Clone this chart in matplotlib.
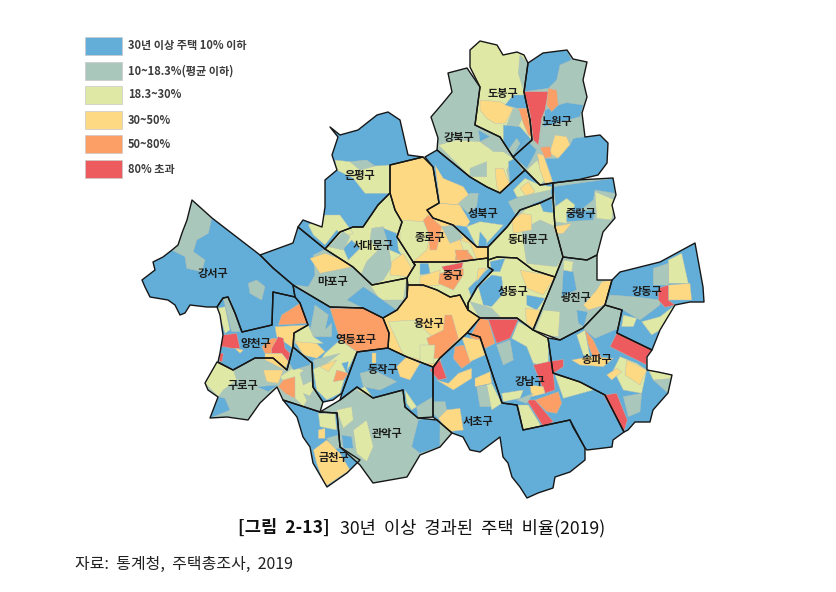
"""
Share of housing older than 30 years, Seoul, 2019 - choropleth traced from the picture.
District outlines are in picture pixels, the blocks inside them are in crop pixels (3x zoom).
"""
import matplotlib
matplotlib.use('Agg')
import matplotlib.pyplot as plt
from matplotlib.path import Path
from matplotlib.patches import PathPatch

plt.rcParams['font.family'] = ['Noto Sans CJK KR', 'DejaVu Sans']

# class colours, low to high
class_colors = ['#62aed8', '#a9c8bb', '#dfe9a5', '#fdd983', '#fb9f66', '#ee5b5e']
class_labels = ['30년 이상 주택 10% 이하', '10~18.3%(평균 이하)', '18.3~30%', '30~50%', '50~80%', '80% 초과']

district_names = ['도봉구', '노원구', '강북구', '성북구', '종로구', '은평구', '서대문구', '마포구', '강서구',
                  '영등포구', '양천구', '구로구', '금천구', '관악구', '동작구', '용산구', '중구', '동대문구',
                  '중랑구', '광진구', '성동구', '강동구', '송파구', '강남구', '서초구']
district_base = [2, 1, 1, 0, 3, 0, 2, 1, 0, 0, 0, 1, 0, 1, 0, 3, 2, 2, 1, 1, 2, 0, 0, 0, 0]
label_x = [503, 557, 459, 483, 430, 360, 373, 333, 213, 356, 256, 243, 334, 387, 383, 429, 453, 528, 581, 576, 513, 647, 597, 530, 478]
label_y = [94, 121, 137, 214, 237, 176, 246, 282, 273, 339, 344, 385, 457, 434, 369, 324, 276, 240, 214, 298, 291, 292, 360, 382, 422]

district_shapes = [
    [(470, 50), (480, 41), (497, 45), (503, 55), (517, 52), (524, 55), (528, 63), (524, 92), (530, 120), (532, 140), (513, 157), (500, 137), (475, 125), (480, 87), (470, 67)],
    [(528, 63), (543, 53), (567, 50), (573, 59), (587, 62), (583, 80), (587, 97), (582, 113), (585, 137), (600, 135), (608, 143), (607, 163), (598, 175), (577, 180), (553, 183), (540, 185), (525, 170), (513, 157), (532, 140), (530, 120), (524, 92)],
    [(448, 73), (467, 68), (480, 87), (475, 125), (500, 137), (513, 157), (525, 170), (500, 193), (487, 187), (470, 177), (437, 150), (438, 138), (431, 117), (443, 103), (452, 92)],
    [(437, 150), (425, 157), (433, 167), (439, 203), (427, 210), (433, 218), (453, 225), (467, 238), (477, 247), (488, 247), (507, 227), (520, 210), (540, 203), (553, 197), (553, 183), (540, 185), (525, 170), (500, 193), (487, 187), (470, 177)],
    [(390, 165), (423, 157), (433, 167), (439, 203), (427, 210), (433, 218), (453, 225), (467, 238), (477, 247), (488, 247), (488, 258), (457, 262), (413, 262), (415, 265), (397, 237), (402, 222), (395, 210), (390, 193)],
    [(330, 127), (340, 135), (358, 130), (377, 115), (388, 112), (400, 120), (408, 155), (423, 157), (390, 165), (390, 193), (378, 205), (363, 227), (353, 227), (340, 232), (325, 249), (298, 227), (303, 220), (322, 227), (325, 207), (325, 180), (337, 170), (332, 155), (338, 137)],
    [(390, 193), (395, 210), (402, 222), (397, 237), (415, 265), (407, 278), (372, 285), (353, 267), (325, 249), (340, 232), (353, 227), (363, 227), (378, 205)],
    [(260, 255), (293, 243), (298, 227), (325, 249), (353, 267), (372, 285), (407, 278), (407, 297), (397, 310), (383, 318), (363, 308), (330, 307), (293, 285), (273, 268)],
    [(192, 200), (212, 218), (260, 255), (273, 268), (293, 285), (295, 297), (273, 292), (272, 325), (242, 332), (235, 313), (228, 297), (223, 298), (217, 307), (207, 307), (190, 305), (185, 313), (180, 315), (175, 305), (168, 300), (150, 297), (145, 287), (142, 280), (155, 270), (153, 262), (163, 257), (172, 250), (178, 245), (182, 233), (187, 220)],
    [(293, 285), (330, 307), (363, 308), (383, 318), (389, 333), (388, 348), (357, 352), (342, 393), (333, 400), (323, 402), (313, 387), (312, 363), (293, 347), (294, 333), (308, 325), (300, 303), (295, 297)],
    [(217, 307), (223, 298), (228, 297), (235, 313), (242, 332), (272, 325), (273, 292), (295, 297), (300, 303), (308, 325), (294, 333), (293, 347), (287, 370), (273, 358), (255, 358), (233, 370), (218, 362), (220, 353), (223, 335), (220, 315)],
    [(205, 383), (217, 362), (233, 370), (255, 358), (273, 358), (287, 370), (293, 347), (312, 363), (313, 387), (323, 402), (320, 412), (283, 400), (277, 387), (260, 403), (248, 420), (227, 417), (210, 418), (218, 397), (208, 390)],
    [(283, 400), (320, 412), (337, 413), (340, 447), (360, 460), (347, 473), (327, 487), (313, 463), (310, 447), (303, 437), (297, 417)],
    [(320, 412), (340, 400), (357, 387), (373, 398), (403, 390), (405, 407), (418, 418), (437, 420), (452, 433), (440, 447), (420, 455), (407, 477), (373, 483), (360, 465), (340, 447), (337, 413)],
    [(357, 352), (388, 348), (407, 357), (433, 367), (433, 417), (418, 418), (405, 407), (403, 390), (373, 398), (357, 387), (340, 400), (342, 393)],
    [(407, 297), (408, 285), (423, 285), (437, 290), (450, 297), (460, 295), (468, 310), (480, 318), (467, 333), (440, 358), (433, 367), (407, 357), (388, 348), (389, 333), (383, 318), (397, 310)],
    [(415, 265), (413, 262), (457, 262), (488, 258), (488, 267), (493, 270), (477, 287), (468, 303), (468, 310), (460, 295), (450, 297), (437, 290), (423, 285), (408, 285), (407, 278)],
    [(488, 247), (507, 227), (520, 210), (540, 203), (553, 197), (555, 227), (563, 257), (555, 277), (533, 270), (517, 258), (497, 257), (488, 260)],
    [(553, 183), (577, 180), (613, 178), (616, 195), (612, 205), (615, 218), (603, 232), (597, 255), (587, 260), (563, 257), (555, 227), (553, 197)],
    [(563, 257), (587, 260), (597, 255), (597, 280), (612, 280), (605, 305), (583, 328), (560, 340), (533, 330), (555, 277)],
    [(488, 260), (497, 257), (517, 258), (533, 270), (555, 277), (533, 330), (517, 318), (487, 318), (480, 318), (468, 310), (468, 303), (477, 287), (493, 270), (488, 267)],
    [(612, 280), (620, 272), (660, 262), (695, 243), (703, 287), (704, 302), (690, 302), (675, 305), (660, 330), (652, 350), (617, 333), (622, 310), (605, 305)],
    [(605, 305), (622, 310), (617, 333), (652, 350), (647, 357), (647, 370), (658, 372), (672, 375), (668, 393), (653, 410), (650, 422), (635, 422), (628, 430), (624, 432), (605, 395), (580, 382), (553, 373), (548, 338), (560, 340), (583, 328)],
    [(480, 318), (517, 318), (533, 330), (548, 338), (553, 373), (580, 382), (605, 395), (624, 432), (613, 440), (612, 447), (587, 450), (585, 448), (570, 420), (523, 430), (517, 405), (502, 403), (480, 337), (467, 333)],
    [(467, 333), (480, 337), (502, 403), (517, 405), (523, 430), (570, 420), (573, 427), (585, 448), (585, 460), (570, 472), (555, 477), (553, 488), (538, 493), (527, 498), (520, 487), (512, 477), (508, 463), (503, 457), (500, 437), (480, 452), (470, 450), (463, 437), (452, 433), (437, 420), (433, 417), (433, 368), (440, 358)],
]

# crop origins of the three traced zooms
north_origin = (300, 30)
west_origin = (140, 190)
east_origin = (420, 230)

north_blobs = [
    (1, [(660, 75), (685, 100), (672, 185), (655, 130)]),
    (3, [(540, 210), (600, 215), (640, 235), (615, 280), (585, 280), (560, 265), (540, 240)]),
    (0, [(615, 225), (640, 195), (675, 195), (680, 235), (650, 235)]),
    (1, [(640, 235), (680, 235), (655, 290), (620, 285)]),
    (0, [(610, 285), (660, 290), (695, 330), (640, 380), (610, 340)]),
    (1, [(625, 360), (650, 325), (660, 340), (640, 375)]),
    (4, [(655, 235), (680, 235), (695, 320), (685, 315), (670, 280)]),
    (0, [(685, 100), (730, 68), (800, 60), (815, 90), (780, 105), (770, 150), (745, 175), (672, 185)]),
    (0, [(735, 240), (775, 225), (800, 218), (850, 225), (840, 260), (790, 275), (730, 290)]),
    (5, [(672, 185), (745, 185), (735, 240), (725, 265), (715, 345), (700, 330), (690, 250)]),
    (4, [(745, 175), (770, 180), (775, 225), (755, 245), (740, 225)]),
    (1, [(725, 300), (760, 310), (745, 350), (720, 350)]),
    (3, [(765, 315), (800, 320), (810, 345), (775, 385), (748, 370)]),
    (4, [(720, 352), (750, 350), (755, 380), (735, 385)]),
    (0, [(735, 385), (775, 385), (810, 345), (820, 325), (855, 320), (900, 315), (925, 340), (920, 400), (895, 435), (830, 450), (760, 460), (740, 400)]),
    (0, [(640, 380), (680, 330), (710, 360), (700, 380), (680, 415)]),
    (2, [(680, 420), (712, 390), (735, 450), (720, 465)]),
    (3, [(712, 370), (730, 375), (758, 455), (735, 460), (720, 420)]),
    (2, [(415, 345), (470, 330), (540, 335), (560, 350), (610, 365), (640, 385), (620, 420), (630, 460), (600, 490), (560, 470), (510, 440)]),
    (0, [(535, 300), (570, 320), (540, 335)]),
    (1, [(545, 335), (590, 325), (625, 365), (580, 365)]),
    (1, [(510, 415), (560, 395), (560, 440), (510, 440)]),
    (0, [(625, 395), (645, 385), (670, 425), (630, 465)]),
    (3, [(585, 415), (610, 415), (630, 465), (600, 490), (590, 470)]),
    (3, [(405, 405), (430, 445), (490, 470), (510, 500), (480, 525), (420, 520)]),
    (3, [(382, 540), (420, 520), (480, 525), (510, 575), (500, 590), (460, 585), (400, 565)]),
    (1, [(475, 520), (510, 490), (535, 490), (530, 530), (505, 550)]),
    (2, [(640, 480), (675, 445), (720, 465), (755, 470), (750, 490), (690, 510), (650, 500)]),
    (3, [(660, 475), (685, 455), (705, 485), (680, 500)]),
    (1, [(625, 515), (660, 500), (750, 480), (755, 500), (700, 520), (650, 560)]),
    (2, [(500, 590), (540, 575), (610, 585), (560, 640), (530, 650)]),
    (0, [(540, 605), (560, 630), (560, 650), (535, 650)]),
    (2, [(300, 570), (370, 575), (390, 610), (380, 660), (340, 695), (300, 640)]),
    (4, [(370, 570), (385, 555), (425, 590), (410, 660), (390, 660), (385, 610)]),
    (1, [(425, 590), (465, 585), (490, 625), (450, 640)]),
    (2, [(480, 630), (510, 640), (530, 690), (500, 690)]),
    (4, [(470, 670), (500, 660), (525, 690), (465, 690)]),
    (2, [(105, 390), (150, 395), (190, 410), (270, 405), (270, 490), (195, 490), (160, 445), (110, 420)]),
    (1, [(150, 395), (200, 390), (225, 408), (180, 420)]),
    (1, [(665, 600), (720, 570), (765, 590), (790, 680), (770, 710), (680, 700)]),
    (3, [(635, 570), (665, 550), (695, 555), (695, 600), (640, 610)]),
    (0, [(720, 520), (755, 505), (760, 548), (730, 545)]),
    (0, [(760, 470), (940, 445), (945, 490), (885, 480), (880, 510), (830, 550), (770, 550)]),
    (2, [(885, 485), (945, 510), (935, 570), (890, 565)]),
    (2, [(765, 530), (800, 505), (825, 525), (800, 580), (760, 575)]),
    (0, [(800, 545), (885, 540), (880, 570), (800, 575)]),
    (3, [(760, 590), (815, 580), (790, 610), (768, 612)]),
]

west_blobs = [
    (2, [(505, 105), (555, 75), (600, 75), (640, 130), (610, 140), (590, 120), (555, 165), (520, 135)]),
    (1, [(695, 115), (730, 110), (745, 160), (755, 230), (730, 270), (695, 285), (660, 260), (680, 215), (715, 180), (690, 150)]),
    (0, [(730, 115), (770, 130), (775, 180), (805, 225), (785, 195), (750, 180)]),
    (0, [(610, 175), (635, 150), (660, 175), (625, 210)]),
    (1, [(565, 170), (610, 125), (630, 140), (610, 180)]),
    (3, [(755, 215), (790, 190), (815, 235), (805, 260), (750, 255)]),
    (0, [(360, 195), (460, 160), (475, 110), (555, 178), (520, 195), (525, 255), (505, 290), (460, 285), (400, 235)]),
    (3, [(510, 205), (555, 190), (610, 210), (640, 230), (540, 250)]),
    (2, [(690, 285), (800, 265), (790, 330), (720, 330)]),
    (0, [(620, 330), (670, 290), (700, 310), (770, 360), (730, 385), (670, 355)]),
    (4, [(570, 355), (670, 355), (730, 385), (748, 430), (745, 475), (650, 485), (600, 450)]),
    (4, [(425, 375), (480, 340), (505, 400), (415, 405)]),
    (3, [(405, 410), (500, 405), (465, 440), (460, 475), (410, 440)]),
    (1, [(525, 345), (565, 375), (555, 420), (575, 400), (575, 440), (520, 440), (510, 425)]),
    (2, [(465, 430), (505, 405), (520, 440), (550, 460), (465, 460)]),
    (3, [(465, 455), (530, 460), (555, 485), (530, 505), (490, 495)]),
    (2, [(555, 490), (600, 450), (650, 485), (620, 545), (600, 610), (560, 630), (530, 600), (520, 540)]),
    (1, [(520, 510), (600, 490), (560, 520), (525, 535)]),
    (3, [(540, 530), (590, 510), (565, 545)]),
    (4, [(580, 575), (590, 540), (625, 550), (610, 570)]),
    (0, [(605, 520), (625, 515), (620, 550)]),
    (3, [(695, 490), (708, 490), (708, 520), (695, 520)]),
    (3, [(770, 530), (800, 500), (840, 520), (810, 570), (780, 560)]),
    (1, [(660, 550), (700, 540), (770, 575), (720, 600), (670, 590)]),
    (2, [(795, 600), (830, 650), (815, 660), (800, 640)]),
    (1, [(830, 650), (880, 620), (880, 680), (835, 685)]),
    (2, [(650, 600), (675, 590), (700, 625)]),
    (2, [(232, 355), (255, 350), (270, 420), (255, 430)]),
    (1, [(250, 325), (270, 325), (300, 425), (275, 425)]),
    (5, [(250, 435), (290, 430), (300, 475), (275, 475), (250, 470), (240, 475)]),
    (5, [(240, 490), (250, 490), (247, 515), (238, 515)]),
    (3, [(285, 475), (310, 480), (300, 490)]),
    (4, [(365, 470), (395, 445), (430, 445), (400, 490), (375, 490)]),
    (5, [(395, 475), (415, 440), (430, 445), (435, 475), (450, 490), (445, 515), (425, 490), (395, 490)]),
    (3, [(375, 490), (425, 490), (445, 515), (435, 540), (375, 510)]),
    (2, [(195, 580), (230, 515), (280, 540), (290, 570), (250, 600), (235, 620)]),
    (0, [(235, 620), (255, 625), (270, 660), (210, 685)]),
    (0, [(350, 590), (415, 585), (385, 605)]),
    (3, [(370, 540), (430, 540), (415, 580), (380, 575)]),
    (2, [(420, 560), (465, 530), (510, 550), (520, 600), (490, 650), (465, 625)]),
    (4, [(415, 590), (430, 570), (465, 560), (465, 625), (435, 610)]),
    (1, [(480, 550), (515, 525), (520, 570), (490, 585)]),
    (0, [(445, 515), (465, 470), (510, 510), (510, 525), (460, 540)]),
    (1, [(490, 610), (525, 625), (540, 665), (510, 650)]),
    (1, [(155, 30), (215, 85), (205, 130), (170, 150), (160, 185), (195, 210), (185, 245), (140, 235), (135, 200), (95, 180), (120, 130), (140, 90)]),
    (1, [(325, 280), (350, 270), (375, 290), (365, 330), (330, 310)]),
    (2, [(535, 670), (585, 670), (590, 720), (540, 710)]),
    (1, [(560, 745), (595, 735), (600, 775), (580, 775)]),
    (3, [(520, 780), (560, 750), (600, 790), (630, 840), (555, 890), (530, 820)]),
    (3, [(535, 720), (555, 715), (555, 745), (535, 745)]),
    (2, [(640, 720), (680, 690), (700, 770), (680, 815), (650, 790)]),
    (2, [(590, 660), (635, 650), (640, 690), (610, 715)]),
    (0, [(605, 735), (635, 740), (640, 775), (610, 775)]),
    (0, [(835, 690), (875, 680), (900, 700), (900, 770), (840, 790), (815, 770)]),
    (2, [(745, 395), (830, 390), (860, 425), (905, 465), (900, 525), (790, 495)]),
]

east_blobs = [
    (4, [(20, 325), (70, 300), (75, 255), (95, 255), (115, 325), (60, 385), (40, 385)]),
    (2, [(0, 345), (45, 345), (40, 400), (0, 400)]),
    (3, [(0, 140), (60, 120), (60, 165), (0, 170)]),
    (4, [(60, 130), (130, 115), (130, 135), (100, 180), (55, 160)]),
    (5, [(65, 110), (130, 97), (125, 115), (75, 125)]),
    (0, [(0, 100), (25, 100), (30, 130), (0, 135)]),
    (4, [(105, 60), (145, 60), (145, 90), (110, 90)]),
    (0, [(145, 175), (205, 115), (220, 120), (175, 170), (155, 205)]),
    (3, [(175, 115), (200, 115), (170, 155)]),
    (3, [(490, 225), (530, 180), (545, 155), (575, 150), (555, 220), (520, 255)]),
    (0, [(430, 120), (460, 125), (470, 180), (425, 200)]),
    (0, [(470, 240), (500, 245), (520, 260), (490, 290), (475, 280)]),
    (2, [(345, 300), (370, 240), (420, 245), (415, 320), (370, 315)]),
    (2, [(430, 90), (460, 95), (455, 125), (430, 120)]),
    (0, [(175, 170), (215, 135), (245, 140), (250, 190), (215, 230), (190, 225)]),
    (3, [(300, 120), (405, 140), (370, 195), (320, 175)]),
    (0, [(320, 195), (375, 205), (350, 240), (320, 225)]),
    (3, [(315, 235), (360, 240), (340, 295), (320, 280)]),
    (0, [(210, 95), (255, 85), (240, 125), (215, 125)]),
    (1, [(150, 215), (185, 225), (215, 235), (240, 260), (180, 265)]),
    (1, [(570, 195), (640, 200), (720, 210), (720, 225), (660, 270), (610, 240), (555, 225)]),
    (3, [(745, 165), (810, 160), (815, 210), (745, 210)]),
    (5, [(715, 175), (745, 165), (745, 210), (765, 225), (735, 232), (715, 210)]),
    (2, [(745, 90), (785, 70), (805, 160), (745, 160)]),
    (1, [(700, 115), (745, 100), (745, 165), (700, 165)]),
    (2, [(665, 275), (720, 260), (765, 225), (720, 300), (695, 315)]),
    (2, [(610, 255), (650, 265), (640, 290), (605, 290)]),
    (1, [(505, 240), (555, 225), (605, 240), (595, 295), (525, 325), (490, 295)]),
    (5, [(590, 310), (695, 360), (680, 380), (680, 405), (570, 350)]),
    (2, [(470, 315), (495, 300), (510, 380), (490, 375)]),
    (4, [(495, 300), (520, 330), (545, 385), (520, 385), (505, 345)]),
    (3, [(455, 390), (510, 380), (580, 385), (550, 410), (480, 405)]),
    (2, [(600, 380), (650, 400), (680, 420), (665, 490), (610, 480), (580, 420)]),
    (3, [(620, 390), (680, 420), (660, 465), (615, 435)]),
    (3, [(560, 435), (590, 415), (605, 425), (575, 450)]),
    (1, [(610, 500), (665, 490), (660, 545), (625, 560)]),
    (2, [(685, 420), (755, 435), (745, 470), (700, 450)]),
    (1, [(700, 450), (760, 445), (745, 490)]),
    (4, [(150, 320), (180, 265), (205, 270), (225, 340), (195, 355)]),
    (5, [(205, 268), (295, 268), (270, 325), (230, 340)]),
    (2, [(295, 275), (340, 300), (385, 325), (385, 410), (340, 400), (320, 350), (275, 325)]),
    (1, [(230, 345), (270, 330), (280, 390), (250, 405)]),
    (5, [(340, 405), (385, 395), (430, 388), (430, 410), (400, 430), (405, 480), (375, 490)]),
    (2, [(405, 435), (480, 455), (520, 480), (430, 505)]),
    (4, [(345, 510), (415, 485), (425, 520), (410, 550), (380, 545)]),
    (5, [(320, 510), (345, 510), (400, 575), (370, 590)]),
    (2, [(295, 525), (325, 525), (365, 590), (310, 600)]),
    (5, [(550, 495), (590, 490), (622, 570), (612, 605)]),
    (2, [(245, 490), (310, 480), (300, 505), (250, 515)]),
    (3, [(330, 465), (370, 470), (375, 490), (335, 500)]),
    (1, [(290, 510), (340, 490), (320, 520)]),
    (4, [(105, 350), (130, 345), (155, 395), (125, 415), (100, 385)]),
    (3, [(125, 320), (180, 330), (195, 375), (150, 395)]),
    (3, [(50, 450), (85, 460), (115, 430), (155, 415), (155, 445), (100, 480)]),
    (5, [(30, 420), (60, 390), (80, 445), (55, 450)]),
    (3, [(165, 445), (210, 425), (215, 460), (165, 470)]),
    (1, [(170, 470), (200, 465), (215, 530), (180, 530)]),
    (2, [(200, 465), (215, 460), (245, 520), (215, 540)]),
    (3, [(55, 565), (75, 540), (120, 535), (130, 600), (85, 605)]),
    (1, [(40, 515), (75, 515), (80, 540), (55, 565), (40, 550)]),
    (1, [(60, 610), (100, 605), (90, 640), (60, 640)]),
]


def signed_area(points):
    area = 0
    for (x0, y0), (x1, y1) in zip(points, points[1:] + points[:1]):
        area += x0 * y1 - x1 * y0
    return area


def ring_path(points):
    pts = points if signed_area(points) > 0 else points[::-1]
    return Path(pts + [pts[0]], closed=True)


fig = plt.figure(figsize=(8.37, 5.92), dpi=100)
ax = fig.add_axes([0, 0, 1, 1])
ax.set_xlim(0, 837)
ax.set_ylim(592, 0)
ax.axis('off')

# --- base colour of each district ---
for shape, base in zip(district_shapes, district_base):
    ax.fill(*zip(*shape), color=class_colors[base], linewidth=0, zorder=1)

# blocks are clipped to the city so rough tracing never spills on the white
city = Path.make_compound_path(*[ring_path(shape) for shape in district_shapes])
city_patch = PathPatch(city, transform=ax.transData)

for (ox, oy), blobs in [(north_origin, north_blobs), (west_origin, west_blobs), (east_origin, east_blobs)]:
    for cls, points in blobs:
        xs = [ox + p[0] / 3 for p in points]
        ys = [oy + p[1] / 3 for p in points]
        poly = ax.fill(xs, ys, facecolor=class_colors[cls], edgecolor='#b4bdb6',
                       linewidth=0.3, zorder=2)[0]
        poly.set_clip_path(city_patch)

# --- district borders ---
for shape in district_shapes:
    ax.fill(*zip(*shape), fill=False, edgecolor='#161616', linewidth=1.0, joinstyle='round', zorder=3)

for name, x, y in zip(district_names, label_x, label_y):
    ax.text(x, y, name, ha='center', va='center', fontsize=8, fontweight='bold',
            color='#1c1c1c', zorder=4)

# --- legend ---
legend_top = [37, 62, 86, 111, 135, 160]
for i, top in enumerate(legend_top):
    ax.fill([85, 122, 122, 85], [top, top, top + 18, top + 18], facecolor=class_colors[i],
            edgecolor='#c9c9c9', linewidth=0.5, zorder=2)
    ax.text(128, top + 9, class_labels[i], ha='left', va='center', fontsize=8,
            fontweight='bold', color='#3c3c3c')

# --- caption and source ---
ax.text(238, 528, '[그림  2-13]', ha='left', va='center', fontsize=12.7, fontweight='bold', color='#111111')
ax.text(340, 528, '30년  이상  경과된  주택  비율(2019)', ha='left', va='center', fontsize=12.7, color='#111111')
ax.text(75, 564, '자료:  통계청,  주택총조사,  2019', ha='left', va='center', fontsize=11.5, color='#222222')

fig.savefig('out.png', dpi=100)
